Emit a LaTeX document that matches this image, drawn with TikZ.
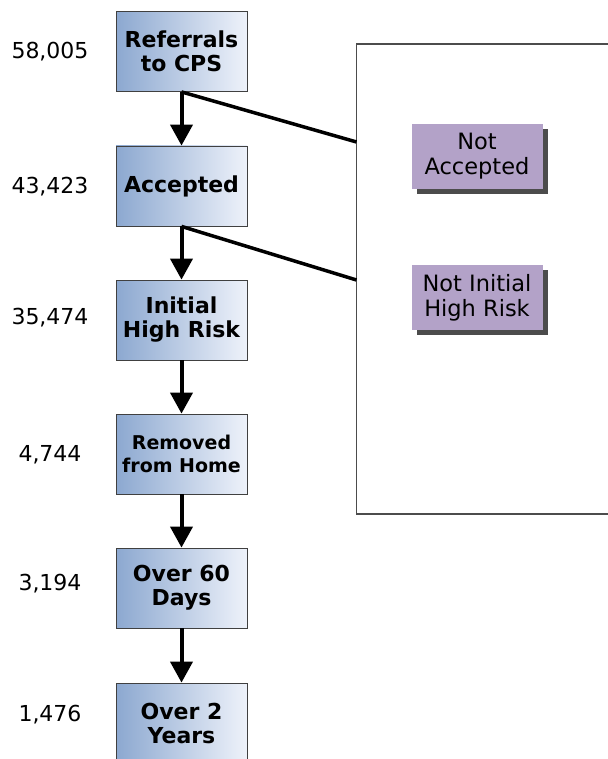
\documentclass[tikz,border=0pt]{standalone}
\usepackage{fontspec}
\setmainfont{DejaVu Sans}
\usetikzlibrary{arrows.meta,positioning,shadows}
\definecolor{stageleft}{RGB}{140,168,208}
\definecolor{stageright}{RGB}{238,242,250}
\definecolor{outpurple}{RGB}{179,162,200}
\tikzset{
  stage/.style={draw=black!75,line width=.8pt,left color=stageleft,right color=stageright,
    minimum width=131pt,minimum height=80pt,align=center,
    font=\fontsize{22}{24}\selectfont\bfseries,inner sep=0pt},
  outbox/.style={fill=outpurple,minimum width=131pt,minimum height=65pt,align=center,
    font=\fontsize{22.5}{25}\selectfont,inner sep=0pt,
    drop shadow={shadow xshift=5pt,shadow yshift=-5pt,fill=black!70,opacity=1}},
  count/.style={font=\fontsize{22}{24}\selectfont}
}
\begin{document}
\begin{tikzpicture}[x=1pt,y=-1pt,>={Triangle[length=21pt,width=22pt]}]
\useasboundingbox (0,0) rectangle (607,759);
% the outcome frame, open on the right
\draw[black!70,line width=1.2pt](620,44)--(356.5,44)--(356.5,514)--(620,514);
\coordinate (in1) at (356.5,142);
\coordinate (in2) at (356.5,280);
% stages
\node[stage] (ref) at (181.5,51.5) {Referrals\\to CPS};
\node[stage] (acc) at (181.5,186) {Accepted};
\node[stage] (ihr) at (181.5,320) {Initial\\High Risk};
\node[stage,font=\fontsize{19}{23}\selectfont\bfseries] (rem) at (181.5,454) {Removed\\from Home};
\node[stage] (o60) at (181.5,588) {Over 60\\Days};
\node[stage] (o2y) at (181.5,723) {Over 2\\Years};
% counts
\node[count] at (50,52) {58,005};
\node[count] at (50,187) {43,423};
\node[count] at (50,318) {35,474};
\node[count] at (50,455) {4,744};
\node[count] at (50,584) {3,194};
\node[count] at (50,715) {1,476};
% outcomes
\node[outbox] (nacc) at (477,156.5) {Not\\Accepted};
\node[outbox] (nihr) at (477,297.5) {Not Initial\\High Risk};
% arrows
\foreach \a/\b in {ref/acc,acc/ihr,ihr/rem,rem/o60,o60/o2y}
  \draw[->,line width=4pt](\a.south)--(\b.north);
\draw[line width=3.5pt](ref.south)--(in1);
\draw[line width=3.5pt](acc.south)--(in2);
\end{tikzpicture}
\end{document}
